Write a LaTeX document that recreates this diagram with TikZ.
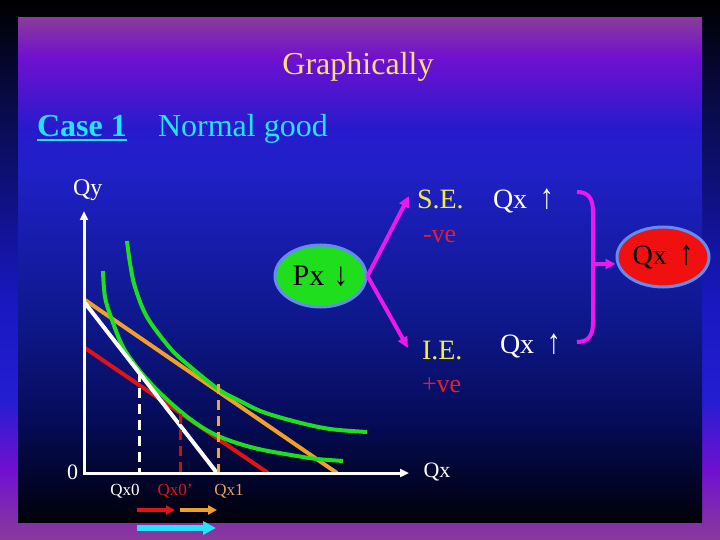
\documentclass[tikz,border=0pt]{standalone}
\usepackage{fontspec}
\usepackage{graphicx}
\setmainfont{Liberation Serif}
\usetikzlibrary{arrows.meta,shapes.geometric}
\definecolor{inA}{RGB}{0,0,10}
\definecolor{inB}{RGB}{2,6,50}
\definecolor{inC}{RGB}{6,12,90}
\definecolor{inD}{RGB}{14,24,140}
\definecolor{inE}{RGB}{32,32,200}
\definecolor{inF}{RGB}{40,26,204}
\definecolor{inG}{RGB}{112,16,208}
\definecolor{inH}{RGB}{138,58,154}
\definecolor{ouB}{RGB}{8,10,70}
\definecolor{ouC}{RGB}{24,24,192}
\definecolor{ouD}{RGB}{36,30,210}
\definecolor{titlecol}{RGB}{255,222,125}
\definecolor{cyanc}{RGB}{35,228,250}
\definecolor{yellowc}{RGB}{240,240,60}
\definecolor{redtxt}{RGB}{225,30,50}
\definecolor{magc}{RGB}{235,25,235}
\definecolor{greenc}{RGB}{30,222,30}
\definecolor{orangec}{RGB}{240,160,40}
\definecolor{redc}{RGB}{225,20,20}
\definecolor{lbl}{RGB}{232,160,96}
\definecolor{rimc}{RGB}{100,140,240}
\definecolor{redfill}{RGB}{240,16,16}
\pgfdeclareverticalshading{innerbg}{100bp}{color(0bp)=(inA); color(25bp)=(inA); color(30.16bp)=(inB); color(35.32bp)=(inC); color(45.24bp)=(inD); color(60.12bp)=(inE); color(64.09bp)=(inF); color(71.03bp)=(inG); color(75bp)=(inH); color(100bp)=(inH)}
\pgfdeclareverticalshading{outerbg}{100bp}{color(0bp)=(inH); color(25bp)=(inH); color(31.48bp)=(inG); color(37.96bp)=(ouD); color(47.22bp)=(ouC); color(65.74bp)=(ouB); color(75bp)=(black); color(100bp)=(black)}
\newcommand{\myfs}[1]{\fontsize{#1}{#1}\selectfont}
\newcommand{\uparr}{\hspace{0.45em}\scalebox{1}[1.25]{↑}}
\newcommand{\downarr}{\hspace{0.3em}\scalebox{1}[1.1]{↓}}
\begin{document}
\begin{tikzpicture}[x=1pt,y=-1pt,
  txt/.style={inner sep=0pt, outer sep=0pt},
  ell/.style={ellipse, draw=rimc, line width=3pt, inner sep=0pt},
  axisline/.style={white, line width=3pt, {Triangle[length=9pt,width=8pt]}-{Triangle[length=9pt,width=8pt]}},
  budget/.style={line width=4pt},
  icurve/.style={greenc, line width=4pt, smooth, tension=0.55},
  dropline/.style={line width=3pt, dash pattern=on 10pt off 6pt},
  magarrow/.style={magc, line width=4pt, -{Triangle[length=11pt,width=10pt]}},
  smallarrow/.style={line width=4pt, -{Triangle[length=9pt,width=9pt]}}
]
\useasboundingbox (0,0) rectangle (720,540);
\shade[shading=outerbg] (0,0) rectangle (720,540);
\shade[shading=innerbg] (18,18) rectangle (702,522);

% titles
\node[txt, font=\myfs{32}, text=titlecol, anchor=base] (title) at (358,75) {Graphically};
\node[txt, font=\bfseries\myfs{32}, text=cyanc, anchor=base west] (case) at (37,137) {Case 1};
\draw[cyanc, line width=2pt] ([yshift=-3pt]case.base west) -- ([yshift=-3pt]case.base east);
\node[txt, font=\myfs{32}, text=cyanc, anchor=base west] (normal) at (158,137) {Normal good};

% axes
\coordinate (O) at (84,473);
\coordinate (ytop) at (84,211);
\coordinate (xend) at (409,473);
\node[txt, font=\myfs{24}, text=white, anchor=base west] (qy) at (73,196) {Qy};
\node[txt, font=\myfs{22}, text=white, anchor=base] (zero) at (72.5,479) {0};
\node[txt, font=\myfs{22}, text=white, anchor=base] (qxaxis) at (437,477) {Qx};

% budget lines
\coordinate (oS) at (85,300); \coordinate (oE) at (337,473);
\coordinate (rS) at (85,348); \coordinate (rE) at (268,473);
\coordinate (wS) at (85,303); \coordinate (wE) at (217,473);
\draw[budget, redc] (rS) -- (rE);
\draw[budget, orangec] (oS) -- (oE);

% indifference curves
\draw[icurve] plot coordinates {(103,271) (105,297) (112,320) (123,347) (139,370) (157,390) (180,411) (200,426) (218,436) (240,444) (263,450) (297,456) (317,459) (343,461)};
\draw[icurve] plot coordinates {(127,241) (130,263) (135,287) (147,317) (170,348) (187,364) (218,389) (240,401) (263,412) (297,422) (330,429) (367,432)};

\draw[budget, white] (wS) -- (wE);

% drop lines
\coordinate (d0) at (139,372); \coordinate (d0b) at (139,473);
\coordinate (d1) at (180,414); \coordinate (d1b) at (180,473);
\coordinate (d2) at (218,384); \coordinate (d2b) at (218,473);
\draw[dropline, white] (d0) -- (d0b);
\draw[dropline, redc!90!black] (d1) -- (d1b);
\draw[dropline, orangec!95!white] (d2) -- (d2b);

\draw[axisline] (ytop) -- (O) -- (xend);

% quantity labels
\node[txt, font=\myfs{17}, text=white, anchor=base] (qx0) at (125,495) {Qx0};
\node[txt, font=\myfs{17}, text=redc, anchor=base] (qx0p) at (175,495) {Qx0’};
\node[txt, font=\myfs{17}, text=lbl, anchor=base] (qx1) at (229,495) {Qx1};

% small arrows
\coordinate (ra) at (137,510); \coordinate (rb) at (175,510);
\coordinate (oa) at (180,510); \coordinate (ob) at (217,510);
\coordinate (ca) at (137,528); \coordinate (cb) at (216,528);
\draw[smallarrow, redc] (ra) -- (rb);
\draw[smallarrow, orangec] (oa) -- (ob);
\draw[cyanc, line width=6pt, -{Triangle[length=13pt,width=13pt]}] (ca) -- (cb);

% effects diagram
\node[ell, fill=greenc, minimum width=91pt, minimum height=62pt, font=\myfs{30}, text=black] (px) at (320.5,276) {Px\downarr};
\coordinate (seTip) at (409,196);
\coordinate (ieTip) at (408,348);
\draw[magarrow] (px.east) -- (seTip);
\draw[magarrow] (px.east) -- (ieTip);

\node[txt, font=\myfs{28}, text=yellowc, anchor=base west] (se) at (417,209) {S.E.};
\node[txt, font=\myfs{28}, text=white, anchor=base west] (qxse) at (493,209) {Qx\uparr};
\node[txt, font=\myfs{26}, text=redtxt, anchor=base west] (neg) at (423,242) {-ve};
\node[txt, font=\myfs{28}, text=yellowc, anchor=base west] (ie) at (422,359) {I.E.};
\node[txt, font=\myfs{28}, text=white, anchor=base west] (qxie) at (500,353) {Qx\uparr};
\node[txt, font=\myfs{26}, text=redtxt, anchor=base west] (pos) at (422,392) {+ve};

\node[ell, fill=redfill, minimum width=92pt, minimum height=60pt, font=\myfs{28}, text=black] (qxres) at (663,257) {Qx\uparr};

\coordinate (bt) at (577,192);
\coordinate (bb) at (577,342);
\coordinate (bm) at (593,264);
\draw[magc, line width=4pt] (bt) .. controls (589,192) and (593,199) .. (593,212) -- (593,322) .. controls (593,335) and (589,342) .. (bb);
\draw[magc, line width=4pt, -{Triangle[length=10pt,width=10pt]}] (bm) -- (bm -| qxres.west);
\end{tikzpicture}
\end{document}
